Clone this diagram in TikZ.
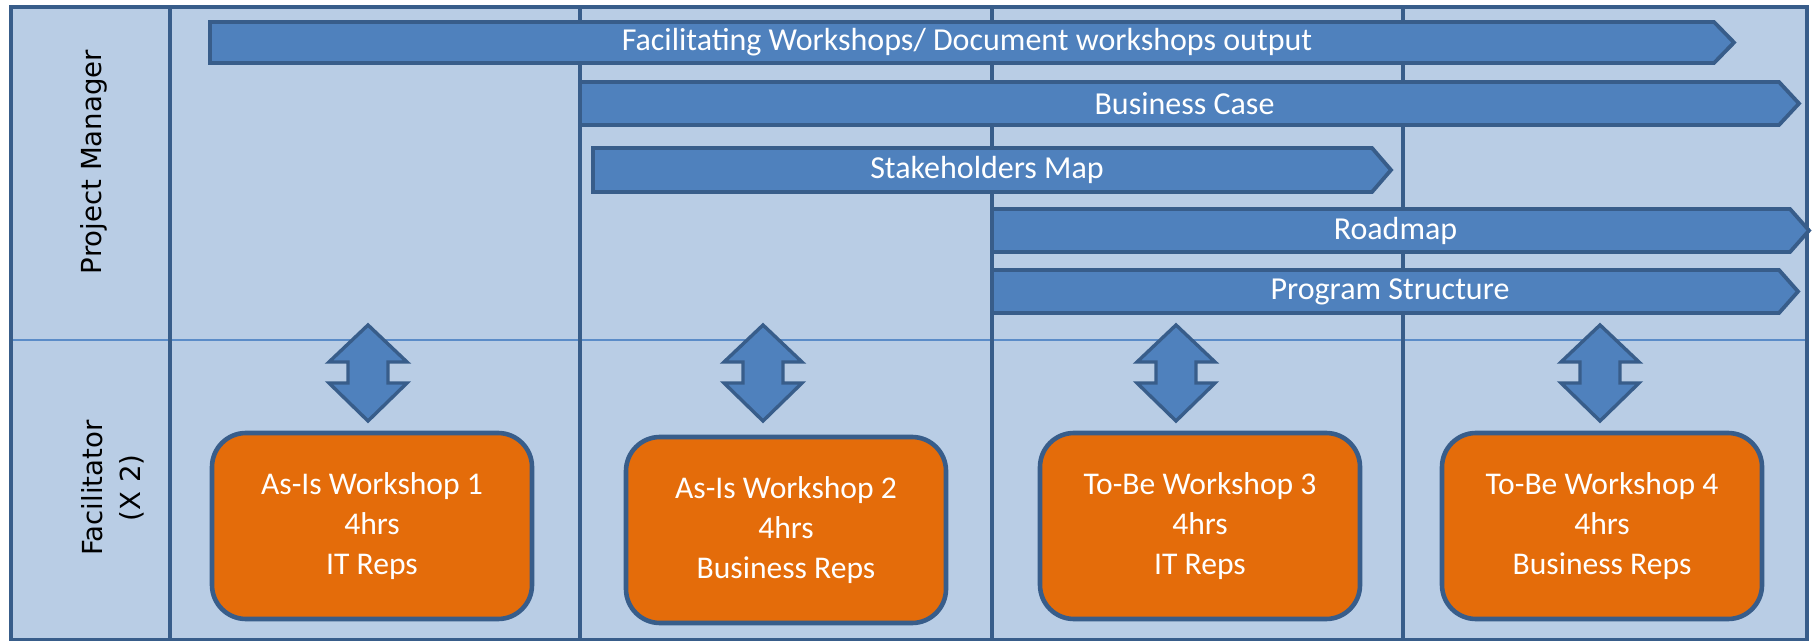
\documentclass[tikz,border=0pt]{standalone}
\usepackage{fontspec}
\setmainfont{Carlito}
\newfontfamily\lanefont{DejaVu Sans}
\definecolor{lanebg}{HTML}{B9CDE5}
\definecolor{darkline}{HTML}{385D8A}
\definecolor{barfill}{HTML}{4F81BD}
\definecolor{divline}{HTML}{5B8CC8}
\definecolor{orangefill}{HTML}{E46C0A}
\tikzset{
  frameline/.style={draw=darkline, line width=1.6pt},
  divider/.style={draw=divline, line width=0.9pt},
  barstyle/.style={fill=barfill, draw=darkline, line width=1.9pt, line join=miter},
  bartext/.style={text=white, font=\fontsize{16}{19}\selectfont, inner sep=0pt},
  updownstyle/.style={fill=barfill, draw=darkline, line width=1.7pt, line join=miter},
  wsbox/.style={fill=orangefill, draw=darkline, line width=2.3pt, rounded corners=17pt,
    minimum width=160pt, minimum height=93pt, text=white, align=center,
    font=\fontsize{15.8}{19.8}\selectfont},
  lanetext/.style={text=black, rotate=90, align=center, font=\lanefont\fontsize{13.8}{19}\selectfont, inner sep=0pt}
}
\newcommand\chevbar[7]{%
  \draw[barstyle] (#2,#5) -- (#3,#5) -- (#4,{(#5+#6)/2}) -- (#3,#6) -- (#2,#6) -- cycle;
  \node[bartext] (#1) at ({(#2+#4)/2-5},{(#5+#6)/2}) {#7};
}
\newcommand\updown[2]{%
  \draw[updownstyle] (#2,325) -- ({#2+39},362) -- ({#2+20},362) -- ({#2+20},383) -- ({#2+39},383)
    -- (#2,421) -- ({#2-39},383) -- ({#2-20},383) -- ({#2-20},362) -- ({#2-39},362) -- cycle;
  \coordinate (#1) at (#2,373);
}
\begin{document}
\begin{tikzpicture}[x=0.5pt,y=-0.5pt]
\useasboundingbox (0,0) rectangle (1813,641);
% lanes background
\fill[lanebg] (11,7) rectangle (1807,640);
\draw[divider] (11,340) -- (1807,340);
% column lines
\draw[frameline] (170,7) -- (170,640);
\draw[frameline] (580,7) -- (580,640);
\draw[frameline] (992,7) -- (992,640);
\draw[frameline] (1403,7) -- (1403,640);
\draw[frameline] (11,7) rectangle (1807,640);
% lane labels
\node[lanetext] (pmlabel) at (94,162) {Project Manager};
\node[lanetext] (faclabel) at (113,488) {Facilitator\\(X 2)};
% bars
\chevbar{fac}{210}{1714}{1734}{22}{63}{Facilitating Workshops/ Document workshops output}
\chevbar{bc}{580}{1779}{1799}{82}{125}{Business Case}
\chevbar{sm}{593}{1372}{1391}{148}{192}{Stakeholders Map}
\chevbar{rm}{992}{1790}{1809}{209}{252}{Roadmap}
\chevbar{ps}{992}{1779}{1798}{270}{313}{Program Structure}
% double arrows
\updown{a1}{368}
\updown{a2}{763}
\updown{a3}{1176}
\updown{a4}{1600}
% workshop boxes
\node[wsbox] (w1) at (372,526) {As-Is Workshop 1\\4hrs\\IT Reps};
\node[wsbox] (w2) at (786,530) {As-Is Workshop 2\\4hrs\\Business Reps};
\node[wsbox] (w3) at (1200,526) {To-Be Workshop 3\\4hrs\\IT Reps};
\node[wsbox] (w4) at (1602,526) {To-Be Workshop 4\\4hrs\\Business Reps};
\end{tikzpicture}
\end{document}
